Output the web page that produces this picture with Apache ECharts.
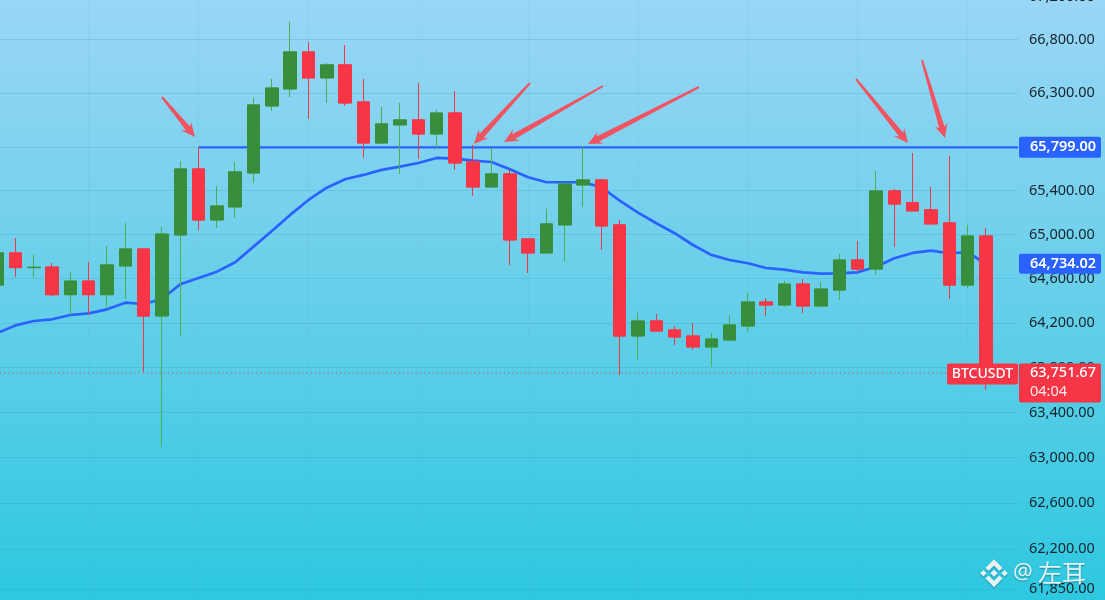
<!DOCTYPE html>
<html><head><meta charset="utf-8">
<style>html,body{margin:0;padding:0;background:#68cfe9}#c{width:1105px;height:600px}</style>
<script src="https://cdn.jsdelivr.net/npm/echarts@6/dist/echarts.min.js"></script>
</head><body><div id="c"></div>
<script>
const opens=[64542,64833,64700,64705,64455,64578,64455,64715,64869,64263,64996,65600,65133,65252,65563,66181,66339,66684,66442,66563,66218,65839,66006,66052,65922,66116,65667,65435,65554,64960,64833,65088,65453,65499,65088,64083,64218,64137,64083,63985,64047,64173,64389,64362,64551,64353,64497,64769,64687,65398,65289,65225,65106,64542,64987];
const closes=[64833,64700,64703,64455,64578,64455,64724,64869,64263,65005,65600,65133,65261,65573,66191,66348,66684,66442,66563,66209,65839,66015,66052,65922,66116,65655,65435,65554,64951,64833,65097,65462,65499,65079,64083,64218,64128,64074,63985,64056,64182,64389,64362,64551,64353,64506,64769,64687,65398,65279,65216,65097,64542,64987,63751.67];
const lows=[64524,64617,64608,64443,64281,64272,64341,64416,63761,63094,64077,65042,65060,65152,65472,66135,66265,66061,66209,66181,65701,65830,65554,65692,65793,65591,65353,65426,64724,64651,64833,64760,65252,64860,63733,63877,64119,64003,63958,63805,64038,64119,64263,64344,64290,64353,64407,64660,64633,64887,65216,65097,64416,64515,63601];
const highs=[64860,64969,64815,64742,64660,64751,64896,65106,64869,65069,65673,65799,65444,65664,66256,66433,66964,66777,66581,66749,66433,66172,66209,66395,66144,66320,65820,65793,65591,64960,65234,65462,65811,65508,65133,64290,64281,64173,64200,64110,64272,64470,64425,64578,64596,64569,64824,64942,65582,65417,65747,65435,65719,65088,65060];
const ma=[64110,64178,64218,64233,64272,64287,64323,64383,64371,64416,64549,64605,64663,64748,64890,65033,65179,65316,65428,65505,65545,65591,65621,65655,65701,65695,65676,65664,65597,65524,65478,65478,65478,65432,65310,65200,65103,65012,64905,64815,64769,64739,64696,64681,64657,64645,64648,64657,64708,64784,64833,64854,64830,64839,64734.02];
const tickLabels=[61850,62200,62600,63000,63400,63800,64200,64600,65000,65400,65800,66300,66800,67200];
const timeMarks=[5,11,17,23,29,35,41,47,53];
const levelPrice=65799, levelStart=11;
const lastPrice=63751.67, maLast=64734.02;
const symbolName='BTCUSDT', countdown='04:04', watermark='左耳';
const arrows=[[162,97,195,137],[530,83,474,144],[603,86,504,142],[699,87,588,144],[856,79,908,143],[922,60,945,138]];

const GREEN='#388e3c',GREENW='#4caf50',RED='#f63647',BLUE='#2962ff';
const FONT='"Noto Sans"';
const fmt=v=>Number(v).toLocaleString('en-US',{minimumFractionDigits:2,maximumFractionDigits:2});
const xMin=0.153,xMax=55.753,yMin=61757,yMax=67359;
const full=opens.map((o,i)=>[i,o,closes[i],lows[i],highs[i]]);
const bodies=opens.map((o,i)=>[i,o,closes[i],Math.min(o,closes[i]),Math.max(o,closes[i])]);

const chart=echarts.init(document.getElementById('c'),null,{renderer:'canvas'});
chart.setOption({
  animation:false,
  backgroundColor:{type:'linear',x:0,y:0,x2:0,y2:1,colorStops:[{offset:0,color:'#9ad6f6'},{offset:0.5,color:'#66cfe9'},{offset:1,color:'#2dc8e0'}]},
  grid:{left:0,top:-20,width:1018,height:620,outerBoundsMode:'none',containLabel:false},
  xAxis:{type:'value',min:xMin,max:xMax,
    axisLine:{show:false},axisLabel:{show:false},
    axisTick:{show:false,customValues:timeMarks},
    splitLine:{show:true,lineStyle:{color:'rgba(70,150,190,0.16)',type:'dotted',width:1}}},
  yAxis:{type:'log',logBase:10,min:yMin,max:yMax,position:'right',
    axisLine:{show:false},
    axisTick:{show:false,customValues:tickLabels},
    axisLabel:{customValues:tickLabels,margin:11,color:'#15232c',fontFamily:FONT,fontSize:14.5,formatter:v=>fmt(v),showMinLabel:true,showMaxLabel:true},
    splitLine:{show:true,lineStyle:{color:'rgba(50,150,190,0.24)',width:1}}},
  series:[
    {type:'line',z:1,silent:true,symbol:'none',lineStyle:{color:RED,width:1,type:[1,3.2]},data:[[xMin,lastPrice],[xMax,lastPrice]]},
    {type:'line',z:2,silent:true,symbol:'none',lineStyle:{color:BLUE,width:2.7},data:ma.map((v,i)=>[i,v])},
    {type:'line',z:3,silent:true,symbol:'none',lineStyle:{color:BLUE,width:2.2},data:[[levelStart,levelPrice],[xMax,levelPrice]]},
    {type:'candlestick',z:4,barWidth:13,silent:true,encode:{x:0,y:[1,2,3,4]},data:full,
      itemStyle:{color:GREEN,color0:RED,borderColor:GREENW,borderColor0:RED,borderColorDoji:GREEN,borderWidth:1}},
    {type:'candlestick',z:5,barWidth:13,silent:true,encode:{x:0,y:[1,2,3,4]},data:bodies,
      itemStyle:{color:GREEN,color0:RED,borderColor:GREEN,borderColor0:RED,borderColorDoji:GREEN,borderWidth:1}}
  ]
});

function py(v){return chart.convertToPixel({yAxisIndex:0},v);}
function arrowPts(a){
  const [x0,y0,x1,y1]=a,dx=x1-x0,dy=y1-y0,L=Math.hypot(dx,dy),ux=dx/L,uy=dy/L,nx=-uy,ny=ux;
  const p=(d,w)=>[x0+ux*d+nx*w,y0+uy*d+ny*w];
  return [p(0,-1),p(L-11,-2.8),p(L-14,-6.5),p(L,0),p(L-14,6.5),p(L-11,2.8),p(0,1)];
}
const els=[];
arrows.forEach(a=>els.push({type:'polygon',z:50,shape:{points:arrowPts(a)},style:{fill:'rgba(252,72,84,0.92)'}}));
function tag(x,y,w,h,fill){els.push({type:'rect',z:60,shape:{x,y,width:w,height:h,r:2},style:{fill}});}
function txt(x,y,t,size,align,fill,w){els.push({type:'text',z:61,x,y,style:{text:t,fontFamily:FONT,fontSize:size,fontWeight:w||400,fill,align:align||'left',verticalAlign:'middle'}});}
const ly=py(levelPrice),my=py(maLast),ry=py(lastPrice);
tag(1019,ly-10.5,82,21,BLUE); txt(1030,ly,fmt(levelPrice),14.5,'left','#fff',600);
tag(1019,my-10,82,20,BLUE); txt(1030,my,fmt(maLast),14.5,'left','#fff',600);
tag(1019,ry-9.5,82,39,RED); txt(1030,ry,fmt(lastPrice),14.5,'left','#fff',500); txt(1030,ry+18.5,countdown,14.5,'left','#ffe9eb');
tag(947,ry-9.5,71,21,RED); txt(982.5,ry+1,symbolName,14,'center','#fff',500);
// watermark
const c=[994,573.3];
const shift=(pts)=>pts.map(p=>[c[0]+p[0],c[1]+p[1]]);
const markFill={fill:'rgba(255,255,255,0.88)',shadowColor:'rgba(0,70,100,0.55)',shadowBlur:1.5,shadowOffsetY:1};
[[[-3.6,0],[0,-3.6],[3.6,0],[0,3.6]],
 [[-13.8,0],[-10.6,-3.2],[-7.4,0],[-10.6,3.2]],
 [[13.8,0],[10.6,-3.2],[7.4,0],[10.6,3.2]],
 [[-8.6,-5.3],[0,-14],[8.6,-5.3],[5.4,-2.2],[0,-7.6],[-5.4,-2.2]],
 [[-8.6,5.3],[0,14],[8.6,5.3],[5.4,2.2],[0,7.6],[-5.4,2.2]]
].forEach(p=>els.push({type:'polygon',z:70,shape:{points:shift(p)},style:markFill}));
els.push({type:'text',z:70,x:1013,y:573,style:{text:'@',fontFamily:FONT,fontSize:22,fill:'rgba(255,255,255,0.88)',verticalAlign:'middle',textShadowColor:'rgba(0,70,100,0.6)',textShadowBlur:1.5,textShadowOffsetY:1}});
els.push({type:'text',z:70,x:1038,y:573,style:{text:watermark,fontFamily:'"Noto Sans CJK SC"',fontSize:24,fill:'rgba(255,255,255,0.88)',verticalAlign:'middle',textShadowColor:'rgba(0,70,100,0.6)',textShadowBlur:1.5,textShadowOffsetY:1}});
chart.setOption({graphic:{elements:els}});
</script></body></html>
